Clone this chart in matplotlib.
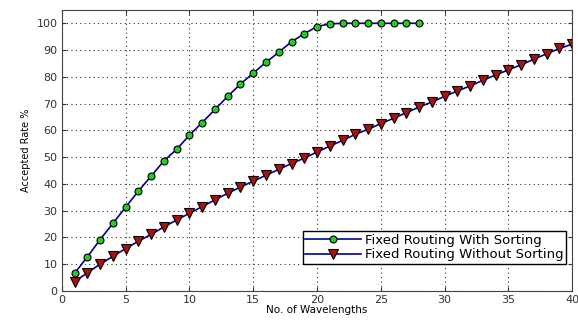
import numpy as np
import matplotlib
matplotlib.use('Agg')
import matplotlib.pyplot as plt

# accepted rate (%) vs number of wavelengths
wl_sorted = list(range(1, 29))
rate_sorted = [6.6, 12.7, 19.2, 25.2, 31.3, 37.3, 42.9, 48.6, 52.9, 58.2,
               62.9, 67.8, 72.7, 77.3, 81.4, 85.4, 89.2, 93.1, 96.1, 98.8,
               99.8, 100, 100, 100, 100, 100, 100, 100]

wl_unsorted = list(range(1, 41))
rate_unsorted = [3.4, 6.8, 10.0, 12.9, 15.8, 18.6, 21.1, 23.9, 26.5, 29.0,
                 31.5, 34.0, 36.5, 38.8, 41.0, 43.2, 45.4, 47.6, 49.6, 51.9,
                 54.1, 56.2, 58.5, 60.4, 62.5, 64.5, 66.6, 68.7, 70.6, 72.7,
                 74.7, 76.6, 78.7, 80.7, 82.6, 84.5, 86.6, 88.6, 90.6, 92.2]

labels = ['Fixed Routing With Sorting', 'Fixed Routing Without Sorting']

plt.rcParams['font.family'] = ['DejaVu Sans']

fig = plt.figure(figsize=(5.78, 3.2), dpi=100)
ax = fig.add_axes([0.107, 0.091, 0.883, 0.878])

ax.plot(wl_sorted, rate_sorted, color='#000099', linewidth=1.2, marker='o',
        markersize=5, markerfacecolor='#22cc22', markeredgecolor='black',
        markeredgewidth=0.8, label=labels[0])
ax.plot(wl_unsorted, rate_unsorted, color='#000099', linewidth=1.2, marker='v',
        markersize=6.5, markerfacecolor='#aa1111', markeredgecolor='black',
        markeredgewidth=0.8, label=labels[1])

ax.set_xlim(0, 40)
ax.set_ylim(0, 105)
ax.set_xticks(np.arange(0, 41, 5))
ax.set_yticks(np.arange(0, 101, 10))
ax.grid(True, linestyle=(0, (1, 3)), color='#333333', linewidth=0.8)
ax.tick_params(direction='in', top=True, right=True, labelsize=8, length=3,
               pad=3, colors='#333333')
for s in ax.spines.values():
    s.set_color('#444444')

ax.set_xlabel('No. of Wavelengths', fontsize=7.5, labelpad=0)
ax.set_ylabel('Accepted Rate %', fontsize=7, labelpad=4)

ax.legend(loc='lower right', bbox_to_anchor=(0.988, 0.096), fontsize=9.5,
          frameon=True, fancybox=False, edgecolor='black', framealpha=1,
          handlelength=4.2, borderpad=0.2, labelspacing=0.1,
          handletextpad=0.3, borderaxespad=0)

plt.savefig('out.png', dpi=100)
